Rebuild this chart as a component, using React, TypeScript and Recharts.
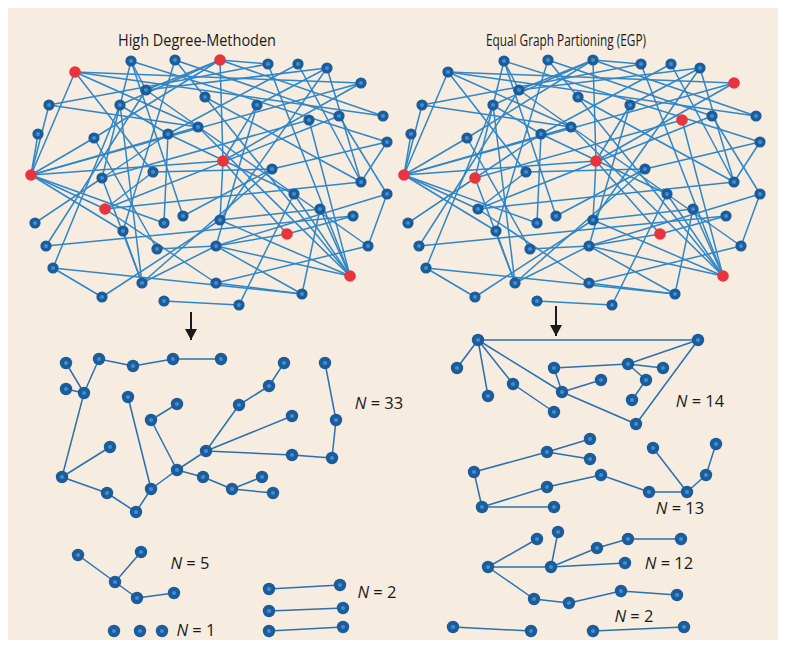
import React from "react";
import { ScatterChart, Scatter, XAxis, YAxis } from "recharts";

// page-pixel coordinates of the shared network layout (left copy)
const topNodes: { id: string; x: number; y: number }[] = [
  { id: "A", x: 75, y: 72 }, { id: "B", x: 131, y: 61 }, { id: "C", x: 175, y: 60 },
  { id: "D", x: 146, y: 90 }, { id: "E", x: 205, y: 97 }, { id: "F", x: 49, y: 105 },
  { id: "G", x: 120, y: 105 }, { id: "H", x: 198, y: 127 }, { id: "I", x: 38, y: 134 },
  { id: "J", x: 94, y: 138 }, { id: "K", x: 168, y: 134 }, { id: "L", x: 31, y: 175 },
  { id: "M", x: 153, y: 172 }, { id: "N", x: 102, y: 178 }, { id: "O", x: 220, y: 60 },
  { id: "P", x: 268, y: 64 }, { id: "Q", x: 298, y: 64 }, { id: "R", x: 327, y: 68 },
  { id: "S", x: 361, y: 83 }, { id: "T", x: 257, y: 105 }, { id: "U", x: 383, y: 116 },
  { id: "V", x: 309, y: 120 }, { id: "W", x: 339, y: 116 }, { id: "X", x: 387, y: 142 },
  { id: "Y", x: 223, y: 161 }, { id: "Z", x: 272, y: 169 }, { id: "AA", x: 361, y: 182 },
  { id: "AB", x: 105, y: 209 }, { id: "AC", x: 35, y: 223 }, { id: "AD", x: 164, y: 223 },
  { id: "AE", x: 183, y: 216 }, { id: "AF", x: 123, y: 231 }, { id: "AG", x: 46, y: 246 },
  { id: "AH", x: 157, y: 249 }, { id: "AI", x: 53, y: 268 }, { id: "AJ", x: 142, y: 283 },
  { id: "AK", x: 102, y: 297 }, { id: "AL", x: 164, y: 301 }, { id: "AM", x: 387, y: 194 },
  { id: "AN", x: 294, y: 194 }, { id: "AO", x: 320, y: 209 }, { id: "AP", x: 353, y: 216 },
  { id: "AQ", x: 220, y: 220 }, { id: "AR", x: 287, y: 234 }, { id: "AS", x: 216, y: 246 },
  { id: "AT", x: 368, y: 246 }, { id: "AU", x: 350, y: 276 }, { id: "AV", x: 216, y: 283 },
  { id: "AW", x: 302, y: 294 }, { id: "AX", x: 239, y: 305 },
];

const topEdges: [string, string][] = [
  ["A", "S"], ["A", "U"], ["A", "L"], ["A", "M"], ["A", "H"],
  ["B", "N"], ["B", "AE"], ["B", "X"], ["B", "D"],
  ["C", "AF"], ["C", "W"], ["C", "E"],
  ["D", "R"], ["D", "AT"],
  ["E", "AU"], ["E", "AA"],
  ["F", "H"], ["F", "L"],
  ["G", "AI"], ["G", "AJ"], ["G", "O"], ["G", "K"],
  ["H", "AU"], ["H", "L"],
  ["I", "L"],
  ["J", "L"], ["J", "AH"], ["J", "O"],
  ["K", "AD"], ["K", "AN"], ["Q", "K"],
  ["AC", "N"], ["AC", "K"], ["AG", "D"],
  ["AI", "AK"], ["AI", "AW"],
  ["AK", "AQ"],
  ["N", "AJ"], ["AF", "AJ"], ["AJ", "Z"], ["AJ", "AS"],
  ["AL", "AX"],
  ["AE", "Z"],
  ["AF", "L"], ["AD", "L"],
  ["O", "P"], ["O", "Y"], ["O", "U"], ["O", "D"],
  ["P", "F"], ["P", "AU"],
  ["Q", "AA"],
  ["R", "AA"], ["R", "AQ"], ["R", "T"],
  ["S", "Y"], ["S", "L"],
  ["X", "AA"], ["X", "Z"],
  ["W", "AM"], ["W", "AB"],
  ["V", "AU"], ["V", "N"],
  ["T", "Y"], ["T", "AS"],
  ["AM", "AT"], ["AM", "AS"],
  ["AN", "AU"], ["AN", "AX"],
  ["AO", "AW"], ["AO", "AQ"], ["AO", "AU"],
  ["AP", "AR"], ["AP", "AG"],
  ["AR", "AS"], ["AR", "Y"],
  ["AS", "AU"], ["AS", "AW"], ["AS", "AH"],
  ["AT", "AV"],
  ["AV", "AW"], ["AV", "AB"],
  ["AQ", "AU"], ["AQ", "Y"],
  ["M", "Z"],
  ["L", "Y"], ["L", "AB"],
  ["AB", "M"], ["AB", "AA"],
];

const rightShift = 373;
const redHighDegree = ["A", "L", "O", "Y", "AB", "AR", "AU"];
const redEgp = ["S", "L", "V", "Y", "N", "AR", "AU"];

// High Degree result components
const hdBig: [number, number][] = [
  [66, 363], [99, 359], [133, 366], [173, 359], [221, 359], [66, 389], [84, 393],
  [128, 397], [177, 404], [151, 420], [110, 447], [62, 477], [107, 493], [136, 512],
  [151, 489], [177, 470], [203, 477], [232, 489], [262, 477], [273, 493], [206, 451],
  [239, 405], [269, 386], [284, 363], [292, 416], [292, 455], [332, 458], [336, 420],
  [325, 363],
];
const hdBigEdges: [number, number][] = [
  [0, 6], [5, 6], [6, 1], [1, 2], [2, 3], [3, 4], [6, 11], [11, 10], [11, 12],
  [12, 13], [13, 14], [14, 7], [14, 15], [15, 9], [9, 8], [15, 20], [15, 16],
  [16, 17], [17, 18], [17, 19], [20, 21], [21, 22], [22, 23], [20, 24], [20, 25],
  [25, 26], [26, 27], [27, 28],
];
const hdFive: [number, number][] = [[78, 555], [141, 552], [115, 582], [137, 598], [174, 593]];
const hdFiveEdges: [number, number][] = [[0, 2], [1, 2], [2, 3], [3, 4]];
const hdSingles: [number, number][] = [[114, 631], [140, 631], [162, 631]];
const hdPairs: [number, number][] = [
  [269, 589], [340, 585], [269, 611], [343, 608], [269, 631], [343, 627],
];

// EGP result components
const egp14: [number, number][] = [
  [478, 340], [698, 340], [457, 368], [488, 396], [513, 384], [554, 412], [554, 368],
  [562, 392], [601, 380], [628, 364], [663, 368], [646, 380], [632, 400], [636, 424],
];
const egp14Edges: [number, number][] = [
  [0, 1], [0, 2], [0, 3], [0, 4], [4, 5], [0, 7], [6, 7], [7, 8], [7, 13], [13, 1],
  [1, 9], [6, 9], [9, 10], [9, 11], [11, 12],
];
const egp13: [number, number][] = [
  [590, 439], [547, 452], [590, 459], [474, 472], [482, 507], [547, 487], [601, 475],
  [649, 492], [687, 492], [653, 448], [706, 475], [716, 444], [554, 507],
];
const egp13Edges: [number, number][] = [
  [3, 1], [1, 0], [1, 2], [3, 4], [4, 12], [4, 5], [5, 6], [6, 7], [7, 8], [9, 8],
  [8, 10], [10, 11],
];
const egp12: [number, number][] = [
  [488, 567], [537, 539], [558, 532], [551, 567], [597, 548], [628, 539], [681, 539],
  [625, 563], [534, 599], [569, 603], [621, 591], [677, 595],
];
const egp12Edges: [number, number][] = [
  [0, 1], [0, 3], [2, 3], [3, 4], [4, 5], [5, 6], [3, 7], [0, 8], [8, 9], [9, 10], [10, 11],
];
const egpPairs: [number, number][] = [[453, 627], [531, 631], [593, 631], [684, 627]];

const titles = [
  { x: 197, y: 46, text: "High Degree-Methoden", w: 158 },
  { x: 566, y: 46, text: "Equal Graph Partioning (EGP)", w: 160 },
];
const nLabels = [
  { x: 379, y: 409, n: "33" },
  { x: 190, y: 569, n: "5" },
  { x: 196, y: 636, n: "1" },
  { x: 377, y: 598, n: "2" },
  { x: 700, y: 407, n: "14" },
  { x: 680, y: 514, n: "13" },
  { x: 669, y: 569, n: "12" },
  { x: 634, y: 622, n: "2" },
];
const arrows = [
  { x: 191, top: 312, tip: 340 },
  { x: 556, top: 306, tip: 336 },
];

const TOP_EDGE = "#2f86c8";
const LOW_EDGE = "#2b70b0";
const FONT = "'Liberation Sans Narrow', 'Open Sans', sans-serif";

const Blank = () => <g />;

const NodeDot = (props: any) => {
  const { cx, cy, payload } = props;
  if (payload.red) return <circle cx={cx} cy={cy} r={5.8} fill="#e8343e" />;
  const r = payload.big ? 6.2 : 5.6;
  return (
    <g>
      <circle cx={cx} cy={cy} r={r} fill="#1c5c9a" />
      <circle cx={cx} cy={cy} r={2.1} fill="#3f8fd2" />
    </g>
  );
};

const TitleText = (props: any) => {
  const { cx, cy, payload } = props;
  return (
    <text x={cx} y={cy} textAnchor="middle" fontFamily={FONT} fontSize={16} fill="#1a1a1a"
      textLength={payload.w} lengthAdjust="spacingAndGlyphs">
      {payload.text}
    </text>
  );
};

const NText = (props: any) => {
  const { cx, cy, payload } = props;
  return (
    <text x={cx} y={cy} textAnchor="middle" fontFamily={FONT} fontSize={16.5} fill="#1a1a1a">
      <tspan fontStyle="italic">N</tspan>
      {` = ${payload.n}`}
    </text>
  );
};

const ArrowHead = (props: any) => {
  const { cx, cy, payload } = props;
  if (!payload.head) return <g />;
  return <polygon points={`${cx - 6},${cy - 11} ${cx + 6},${cy - 11} ${cx},${cy}`} fill="#1a1a1a" />;
};

type Seg = { a: { x: number; y: number }; b: { x: number; y: number }; color: string; key: string };

function buildSegments(): Seg[] {
  const segs: Seg[] = [];
  const byId: Record<string, { x: number; y: number }> = {};
  topNodes.forEach((n) => (byId[n.id] = n));
  [0, rightShift].forEach((dx) => {
    topEdges.forEach(([p, q], i) => {
      segs.push({
        a: { x: byId[p].x + dx, y: byId[p].y },
        b: { x: byId[q].x + dx, y: byId[q].y },
        color: TOP_EDGE,
        key: `t${dx}-${i}`,
      });
    });
  });
  const comp = (pts: [number, number][], edges: [number, number][], name: string) => {
    edges.forEach(([p, q], i) =>
      segs.push({
        a: { x: pts[p][0], y: pts[p][1] },
        b: { x: pts[q][0], y: pts[q][1] },
        color: LOW_EDGE,
        key: `${name}-${i}`,
      })
    );
  };
  const pairEdges = (pts: [number, number][]) =>
    pts.map((_, i) => [i, i + 1] as [number, number]).filter((_, i) => i % 2 === 0);
  comp(hdBig, hdBigEdges, "hb");
  comp(hdFive, hdFiveEdges, "h5");
  comp(hdPairs, pairEdges(hdPairs), "hp");
  comp(egp14, egp14Edges, "e14");
  comp(egp13, egp13Edges, "e13");
  comp(egp12, egp12Edges, "e12");
  comp(egpPairs, pairEdges(egpPairs), "ep");
  return segs;
}

export default function App() {
  const segs = buildSegments();
  const nodes = [
    ...topNodes.map((n) => ({ x: n.x, y: n.y, red: redHighDegree.includes(n.id) })),
    ...topNodes.map((n) => ({ x: n.x + rightShift, y: n.y, red: redEgp.includes(n.id) })),
  ];
  const lowNodes = [...hdBig, ...hdFive, ...hdSingles, ...hdPairs, ...egp14, ...egp13, ...egp12, ...egpPairs].map(
    ([x, y]) => ({ x, y, red: false, big: true })
  );

  return (
    <div style={{ width: 770, height: 632, background: "#f6ecdf" }}>
      <ScatterChart width={770} height={632} margin={{ top: 0, right: 0, bottom: 0, left: 0 }}>
        <XAxis type="number" dataKey="x" domain={[8, 778]} hide allowDataOverflow />
        <YAxis type="number" dataKey="y" domain={[8, 640]} reversed hide allowDataOverflow />
        {segs.map((s) => (
          <Scatter key={s.key} data={[s.a, s.b]} line={{ stroke: s.color, strokeWidth: 1.5 }}
            shape={Blank} isAnimationActive={false} legendType="none" />
        ))}
        {arrows.map((a, i) => (
          <Scatter key={`arr${i}`} data={[{ x: a.x, y: a.top }, { x: a.x, y: a.tip - 8, head: false }, { x: a.x, y: a.tip, head: true }]}
            line={{ stroke: "#1a1a1a", strokeWidth: 2 }} shape={ArrowHead} isAnimationActive={false} legendType="none" />
        ))}
        <Scatter data={nodes} shape={NodeDot} isAnimationActive={false} legendType="none" />
        <Scatter data={lowNodes} shape={NodeDot} isAnimationActive={false} legendType="none" />
        <Scatter data={titles} shape={TitleText} isAnimationActive={false} legendType="none" />
        <Scatter data={nLabels} shape={NText} isAnimationActive={false} legendType="none" />
      </ScatterChart>
    </div>
  );
}
